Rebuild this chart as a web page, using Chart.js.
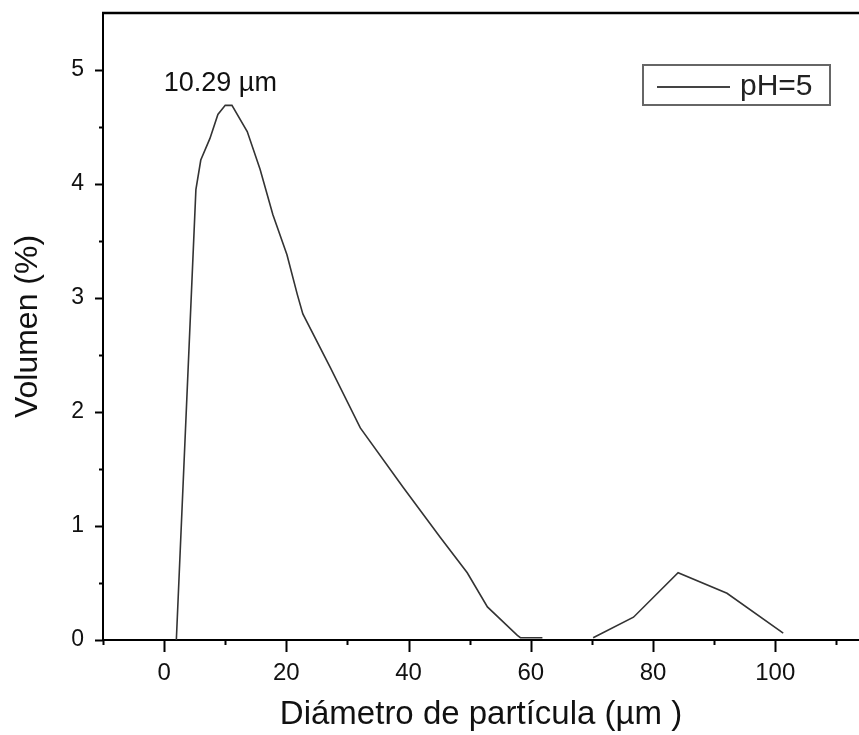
<!DOCTYPE html>
<html>
<head>
<meta charset="utf-8">
<script src="https://cdn.jsdelivr.net/npm/chart.js@4/dist/chart.umd.min.js"></script>
<style>
    body { margin: 0; background: #fff; }
    #wrap { width: 859px; height: 735px; }
</style>
</head>
<body>
<div id="wrap"><canvas id="sizeChart" width="859" height="735"></canvas></div>
<script>
// Particle size distribution, pH=5
const diametro = [2.0, 5.2, 6.0, 7.5, 8.8, 10.0, 11.1, 13.6, 15.7, 17.8, 20.1, 21.8, 22.7, 27.2, 32.1, 39.1, 45.2, 49.6, 52.9, 57.8, 58.3, 61.9, 65.0, 70.2, 76.8, 84.1, 92.1, 101.3];
const volumen = [0, 3.95, 4.21, 4.40, 4.61, 4.69, 4.69, 4.46, 4.13, 3.73, 3.38, 3.03, 2.86, 2.39, 1.86, 1.34, 0.90, 0.59, 0.29, 0.04, 0.02, 0.02, null, 0.02, 0.20, 0.59, 0.41, 0.06];

const xTicks = [-10, 0, 10, 20, 30, 40, 50, 60, 70, 80, 90, 100, 110];
const xLabels = [0, 20, 40, 60, 80, 100];
const yTicks = [0, 0.5, 1, 1.5, 2, 2.5, 3, 3.5, 4, 4.5, 5];
const yLabels = [0, 1, 2, 3, 4, 5];

const serieLabel = 'pH=5';
const peakText = '10.29 µm';
const peakPos = { x: 9.2, y: 4.82 };

Chart.defaults.font.family = '"Liberation Sans", Arial, sans-serif';
Chart.defaults.color = '#111';

// tick marks, top frame, legend box and peak label
const framePlugin = {
    id: 'frame',
    afterDraw(chart) {
        const c = chart.ctx;
        const area = chart.chartArea;
        const xs = chart.scales.x;
        const ys = chart.scales.y;
        c.save();
        c.strokeStyle = '#000';
        c.lineWidth = 2;
        xTicks.forEach(function(v) {
            const px = Math.round(xs.getPixelForValue(v)) + 0.5;
            const len = xLabels.includes(v) ? 12 : 5;
            c.beginPath();
            c.moveTo(px, area.bottom);
            c.lineTo(px, area.bottom + len);
            c.stroke();
        });
        yTicks.forEach(function(v) {
            const py = Math.round(ys.getPixelForValue(v)) + 0.5;
            const len = yLabels.includes(v) ? 8 : 4;
            c.beginPath();
            c.moveTo(area.left, py);
            c.lineTo(area.left - len, py);
            c.stroke();
        });
        // top border
        c.lineWidth = 2.5;
        c.beginPath();
        c.moveTo(area.left - 1, area.top);
        c.lineTo(area.right, area.top);
        c.stroke();

        // legend
        const bx = area.right - 216, by = area.top + 52;
        c.strokeStyle = '#666';
        c.lineWidth = 2;
        c.strokeRect(bx, by, 187, 40);
        c.strokeStyle = '#444';
        c.beginPath();
        c.moveTo(bx + 14, by + 22);
        c.lineTo(bx + 87, by + 22);
        c.stroke();
        c.fillStyle = '#222';
        c.font = '30px "Liberation Sans", Arial, sans-serif';
        c.textBaseline = 'middle';
        c.textAlign = 'left';
        c.fillText(serieLabel, bx + 97, by + 22);

        // peak label
        c.font = '27px "Liberation Sans", Arial, sans-serif';
        c.textAlign = 'center';
        c.textBaseline = 'alphabetic';
        c.fillStyle = '#111';
        c.fillText(peakText, xs.getPixelForValue(peakPos.x), ys.getPixelForValue(peakPos.y));
        c.restore();
    }
};

const ctx = document.getElementById('sizeChart').getContext('2d');
const chart = new Chart(ctx, {
    type: 'line',
    data: {
        labels: diametro,
        datasets: [{
            label: serieLabel,
            data: diametro.map(function(d, i) { return { x: d, y: volumen[i] }; }),
            borderColor: '#333',
            borderWidth: 1.6,
            pointRadius: 0,
            tension: 0,
            fill: false,
            spanGaps: false
        }]
    },
    options: {
        responsive: false,
        animation: false,
        layout: {
            padding: { top: 13, right: 0, bottom: 0, left: 0 }
        },
        plugins: {
            legend: { display: false },
            tooltip: { enabled: false }
        },
        scales: {
            x: {
                type: 'linear',
                min: -10,
                max: 113.7,
                afterBuildTicks: function(scale) {
                    scale.ticks = xTicks.map(function(v) { return { value: v }; });
                },
                afterFit: function(scale) {
                    scale.height = 95;
                    scale.paddingLeft = 0;
                    scale.paddingRight = 0;
                },
                ticks: {
                    autoSkip: false,
                    maxRotation: 0,
                    padding: 19,
                    font: { size: 24 },
                    callback: function(value) {
                        return xLabels.includes(value) ? String(value) : '';
                    }
                },
                grid: { display: true, drawOnChartArea: false, drawTicks: false },
                border: { display: true, color: '#000', width: 2 },
                title: {
                    display: true,
                    text: 'Diámetro de partícula (µm )',
                    font: { size: 33 },
                    padding: { top: 0, bottom: 0 }
                }
            },
            y: {
                min: 0,
                max: 5.5,
                afterBuildTicks: function(scale) {
                    scale.ticks = yTicks.map(function(v) { return { value: v }; });
                },
                afterFit: function(scale) {
                    scale.width = 103;
                    scale.paddingTop = 0;
                    scale.paddingBottom = 0;
                },
                ticks: {
                    autoSkip: false,
                    padding: 19,
                    font: { size: 23 },
                    callback: function(value) {
                        return yLabels.includes(value) ? String(value) : '';
                    }
                },
                grid: { display: true, drawOnChartArea: false, drawTicks: false },
                border: { display: true, color: '#000', width: 2 },
                title: {
                    display: true,
                    text: 'Volumen (%)',
                    font: { size: 32 },
                    padding: { top: 9, bottom: 0 }
                }
            }
        }
    },
    plugins: [framePlugin]
});
</script>
</body>
</html>
